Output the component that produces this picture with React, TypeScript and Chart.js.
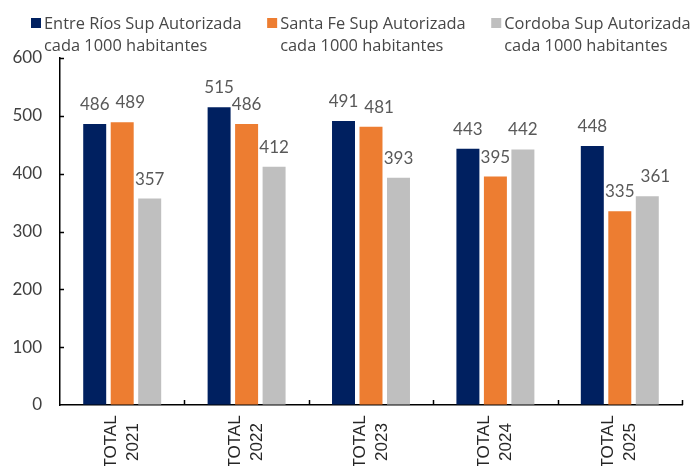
import React, { useEffect, useRef } from 'react';
import { Chart, registerables } from 'chart.js';

Chart.register(...registerables);

// ---- Data ----
const categories: string[][] = [
  ['TOTAL', '2021'],
  ['TOTAL', '2022'],
  ['TOTAL', '2023'],
  ['TOTAL', '2024'],
  ['TOTAL', '2025'],
];
const seriesNames: string[][] = [
  ['Entre Ríos Sup Autorizada', 'cada 1000 habitantes'],
  ['Santa Fe Sup Autorizada', 'cada 1000 habitantes'],
  ['Cordoba Sup Autorizada', 'cada 1000 habitantes'],
];
const entreRios = [486, 515, 491, 443, 448];
const santaFe = [489, 486, 481, 395, 335];
const cordoba = [357, 412, 393, 442, 361];
const yMin = 0;
const yMax = 600;
const yStep = 100;

const seriesColors = ['#002060', '#ED7D31', '#BFBFBF'];

// ---- Plugins ----
const legendPlugin = {
  id: 'customLegend',
  afterDraw(chart: any) {
    const ctx = chart.ctx;
    ctx.save();
    ctx.font = '16.4px "Open Sans"';
    ctx.textAlign = 'left';
    ctx.textBaseline = 'alphabetic';
    let x = 31;
    seriesNames.forEach((lines, i) => {
      ctx.fillStyle = seriesColors[i];
      ctx.fillRect(x, 18, 10, 10);
      ctx.fillStyle = '#474747';
      let w = 0;
      lines.forEach((l, k) => {
        w = Math.max(w, ctx.measureText(l).width);
        ctx.fillText(l, x + 13, 28.5 + k * 22.5);
      });
      x += 13 + w + 25.6;
    });
    ctx.restore();
  },
};

const axisDecorPlugin = {
  id: 'axisDecor',
  afterDraw(chart: any) {
    const ctx = chart.ctx;
    const { chartArea } = chart;
    const xs = chart.scales.x;
    const ys = chart.scales.y;
    ctx.save();
    ctx.strokeStyle = '#000';
    ctx.lineWidth = 1.5;
    // y ticks (inside)
    ys.ticks.forEach((t: any) => {
      if (t.value === yMin) return;
      const py = Math.round(ys.getPixelForValue(t.value)) + 0.5;
      ctx.beginPath();
      ctx.moveTo(chartArea.left, py);
      ctx.lineTo(chartArea.left + 4, py);
      ctx.stroke();
    });
    // x ticks (inside, between categories)
    const n = categories.length;
    for (let i = 0; i < n; i++) {
      const px =
        i < n - 1
          ? (xs.getPixelForValue(i) + xs.getPixelForValue(i + 1)) / 2
          : chartArea.right;
      const rx = Math.round(px) + 0.5;
      ctx.beginPath();
      ctx.moveTo(rx, chartArea.bottom);
      ctx.lineTo(rx, chartArea.bottom - 5);
      ctx.stroke();
    }
    // x labels, rotated, lines centered
    ctx.fillStyle = '#262626';
    ctx.font = '17px "Liberation Sans", Arial, sans-serif';
    ctx.textAlign = 'center';
    ctx.textBaseline = 'middle';
    categories.forEach((lines, i) => {
      const px = xs.getPixelForValue(i);
      ctx.save();
      ctx.translate(px, 442);
      ctx.rotate(-Math.PI / 2);
      lines.forEach((l, k) => {
        ctx.fillText(l, 0, (k - (lines.length - 1) / 2) * 22);
      });
      ctx.restore();
    });
    ctx.restore();
  },
};

const dataLabelPlugin = {
  id: 'dataLabels',
  afterDatasetsDraw(chart: any) {
    const ctx = chart.ctx;
    ctx.save();
    ctx.font = '17px Lato';
    ctx.fillStyle = '#595959';
    ctx.textAlign = 'center';
    ctx.textBaseline = 'alphabetic';
    const n = categories.length;
    for (let i = 0; i < n; i++) {
      let prev: { right: number; y: number } | null = null;
      chart.data.datasets.forEach((ds: any, d: number) => {
        const meta = chart.getDatasetMeta(d);
        const el = meta.data[i];
        if (!el) return;
        const text = String(ds.data[i]);
        const w = ctx.measureText(text).width;
        let cx = el.x;
        const y = el.y - 14;
        if (prev && Math.abs(prev.y - y) < 16 && cx - w / 2 < prev.right + 6) {
          cx = prev.right + 6 + w / 2;
        }
        ctx.fillText(text, cx, y);
        prev = { right: cx + w / 2, y };
      });
    }
    ctx.restore();
  },
};

export default function App() {
  const canvasRef = useRef<HTMLCanvasElement | null>(null);

  useEffect(() => {
    if (!canvasRef.current) return;
    const seriesData = [entreRios, santaFe, cordoba];
    const chart = new Chart(canvasRef.current, {
      type: 'bar',
      data: {
        labels: categories.map((c) => c.join(' ')),
        datasets: seriesData.map((data, i) => ({
          label: seriesNames[i].join(' '),
          data,
          backgroundColor: seriesColors[i],
          borderWidth: 0,
          categoryPercentage: 0.663,
          barPercentage: 0.836,
        })),
      },
      options: {
        responsive: false,
        animation: false,
        devicePixelRatio: 1,
        layout: { padding: { top: 58, right: 9, left: 0, bottom: 0 } },
        plugins: {
          legend: { display: false },
          tooltip: { enabled: false },
          title: { display: false },
        },
        scales: {
          x: {
            offset: true,
            grid: { display: true, drawOnChartArea: false, drawTicks: false },
            border: { display: true, color: '#000', width: 1.5 },
            ticks: { display: false },
            afterFit: (s: any) => {
              s.height = 61;
            },
          },
          y: {
            min: yMin,
            max: yMax,
            grid: { display: true, drawOnChartArea: false, drawTicks: false },
            border: { display: true, color: '#000', width: 1.5 },
            ticks: {
              stepSize: yStep,
              padding: 18,
              color: '#404040',
              font: { family: 'Lato', size: 17 },
            },
            afterFit: (s: any) => {
              s.width = 60;
            },
          },
        },
      },
      plugins: [legendPlugin, axisDecorPlugin, dataLabelPlugin],
    });
    return () => chart.destroy();
  }, []);

  return (
    <div style={{ position: 'absolute', left: 0, top: 0, width: 691, height: 466, background: '#fff' }}>
      <canvas ref={canvasRef} width={691} height={466} style={{ display: 'block' }} />
    </div>
  );
}
